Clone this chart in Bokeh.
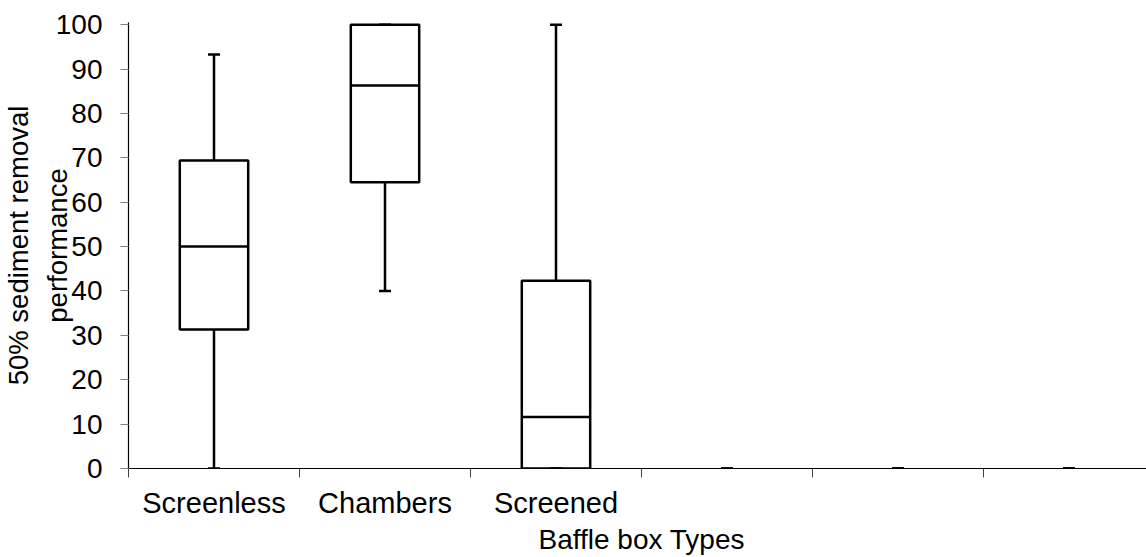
import math
from bokeh.plotting import figure
from bokeh.models import FixedTicker, Range1d, Title
from bokeh.embed import file_html
from bokeh.resources import INLINE

nan = math.nan

# ---- data ----
categories = ["Screenless", "Chambers", "Screened", "", "", ""]
whisker_low = [0.0, 40.0, 0.0, 0.0, 0.0, 0.0]
q1 = [31.3, 64.5, 0.0, nan, nan, nan]
median = [50.0, 86.3, 11.6, nan, nan, nan]
q3 = [69.4, 100.0, 42.3, nan, nan, nan]
whisker_high = [93.3, 100.0, 100.0, 0.0, 0.0, 0.0]
y_ticks = [0, 10, 20, 30, 40, 50, 60, 70, 80, 90, 100]
x_title = "Baffle box Types"
y_title = "50% sediment removal\nperformance"

FONT = "Liberation Sans"
BOX_W = 0.40
LW = 2.5

xs = [i + 1 for i in range(len(categories))]
n = len(categories)

p = figure(
    frame_width=1018, frame_height=446,
    x_range=Range1d(0.5, 0.5 + 1018 / 171.0),
    y_range=Range1d(0, 100.5),
    output_backend="svg", toolbar_location=None,
    min_border_left=128, min_border_right=0,
    min_border_top=22, min_border_bottom=89,
)
p.outline_line_color = None
p.xgrid.visible = False
p.ygrid.visible = False
p.background_fill_color = "white"
p.border_fill_color = "white"

# boxes
p.vbar(x=xs, width=BOX_W, bottom=q1, top=q3, fill_color="white",
       line_color="black", line_width=LW)
# medians
p.segment(x0=[x - BOX_W / 2 for x in xs], x1=[x + BOX_W / 2 for x in xs],
          y0=median, y1=median, line_color="black", line_width=LW)
# whiskers
p.segment(x0=xs, x1=xs, y0=q3, y1=whisker_high, line_color="black", line_width=LW)
p.segment(x0=xs, x1=xs, y0=whisker_low, y1=q1, line_color="black", line_width=LW)
# caps
p.scatter(x=xs, y=whisker_high, marker="dash", size=12, line_color="black", line_width=LW)
p.scatter(x=xs, y=whisker_low, marker="dash", size=12, line_color="black", line_width=LW)

# x axis
xa = p.xaxis[0]
xa.ticker = FixedTicker(ticks=xs[:3], minor_ticks=[x - 0.5 for x in xs] + [n + 0.5])
xa.major_label_overrides = {x: c for x, c in zip(xs, categories) if c}
xa.major_tick_out = 0
xa.major_tick_in = 0
xa.minor_tick_out = 9
xa.minor_tick_in = 0
xa.minor_tick_line_color = "#404040"
xa.axis_line_color = "black"
xa.axis_line_width = 1.2
xa.major_label_text_font = FONT
xa.major_label_text_font_size = "29px"
xa.major_label_text_color = "black"
xa.major_label_standoff = 9

# y axis
ya = p.yaxis[0]
ya.ticker = FixedTicker(ticks=y_ticks, minor_ticks=[])
ya.major_tick_out = 8
ya.major_tick_in = 0
ya.major_tick_line_color = "#808080"
ya.axis_line_color = "black"
ya.axis_line_width = 1.2
ya.major_label_text_font = FONT
ya.major_label_text_font_size = "28px"
ya.major_label_text_color = "black"
ya.major_label_standoff = 18
ya.axis_label = y_title
ya.axis_label_text_font = FONT
ya.axis_label_text_font_size = "27.5px"
ya.axis_label_text_font_style = "normal"
ya.axis_label_text_color = "black"
ya.axis_label_text_line_height = 1.24
ya.axis_label_standoff = -20

p.add_layout(Title(text=x_title, align="left", offset=410, text_font=FONT,
                   text_font_size="28px", text_font_style="normal",
                   text_color="black", standoff=0), "below")

open("out.html", "w").write(file_html(p, INLINE))
